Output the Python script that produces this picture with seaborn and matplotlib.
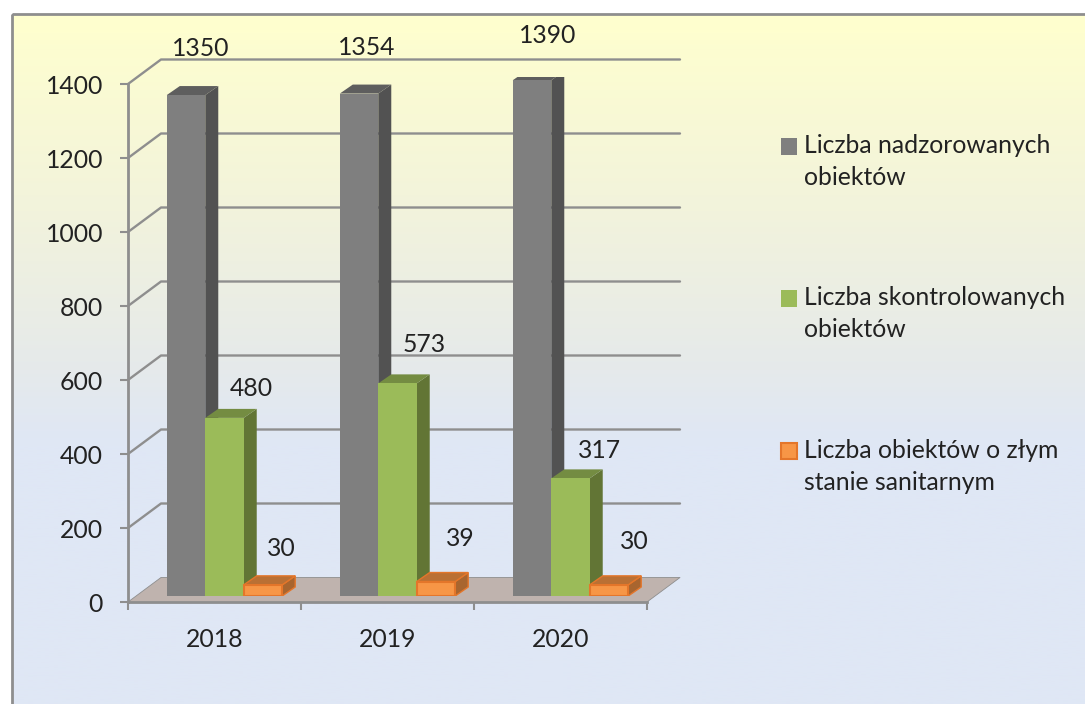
import numpy as np
import pandas as pd
import matplotlib
matplotlib.use("Agg")
import matplotlib.pyplot as plt
import seaborn as sns
from matplotlib.colors import LinearSegmentedColormap
from matplotlib.patches import Polygon, Rectangle

years = ["2018", "2019", "2020"]
supervised = [1350, 1354, 1390]
inspected = [480, 573, 317]
bad_state = [30, 39, 30]
series_names = ["Liczba nadzorowanych\nobiektów",
                "Liczba skontrolowanych\nobiektów",
                "Liczba obiektów o złym\nstanie sanitarnym"]
y_ticks = [0, 200, 400, 600, 800, 1000, 1200, 1400]

front_colors = ["#7F7F7F", "#9BBB59", "#F79646"]
top_colors = ["#5E5E5E", "#748C42", "#BA7034"]
side_colors = ["#525252", "#627535", "#A8652F"]
edge_colors = ["#7F7F7F", "#9BBB59", "#E4762A"]

# pixel offsets of the value labels from the top centre of each bar
label_offsets = [[(15, 47), (8, 46), (16, 45)],
                 [(27, 29), (27, 39), (29, 28)],
                 [(18, 36), (24, 43), (25, 43)]]

W, H = 1085, 704
GREY = "#8E8E8E"
TEXT = "#222222"
FONT = 17.8

sns.set_theme(style="white")
plt.rcParams["font.family"] = ["Lato", "DejaVu Sans"]

df = pd.DataFrame({"rok": years * 3,
                   "seria": np.repeat(series_names, 3),
                   "wartosc": supervised + inspected + bad_state})

fig = plt.figure(figsize=(W / 100, H / 100), dpi=100, facecolor="white")


def box(left, right, top, bottom):
    return [left / W, 1 - bottom / H, (right - left) / W, (bottom - top) / H]


# background: frame, gradient, wall grid and floor, in image pixels
bg = fig.add_axes([0, 0, 1, 1], zorder=0)
bg.set_xlim(0, W)
bg.set_ylim(H, 0)
bg.axis("off")
cmap = LinearSegmentedColormap.from_list(
    "panel", [(0, "#FFFFCE"), (0.28, "#F2F3DC"), (0.5, "#E6EAEA"), (0.62, "#DFE7F5"), (1, "#DFE7F5")])
bg.imshow(np.linspace(0, 1, 300).reshape(-1, 1), cmap=cmap, aspect="auto",
          extent=(12, W + 5, H + 5, 14))
bg.set_xlim(0, W)
bg.set_ylim(H, 0)
bg.add_patch(Rectangle((12, 14), W, H, fill=False, ec=GREY, lw=2))

x0, x1 = 128, 647
y_zero, y_top = 602, 84
dx, dy = 33, 24.5
px_per_unit = (y_zero - y_top) / 1400

bg.add_patch(Polygon([(x0, y_zero), (x1, y_zero), (x1 + dx, y_zero - dy), (x0 + dx, y_zero - dy)],
                     fc="#BFB3AE", ec="none"))
for v in y_ticks:
    y = y_zero - v * px_per_unit
    if v > 0:
        bg.plot([x0, x0 + dx, x1 + dx], [y, y - dy, y - dy], color=GREY, lw=1.7)
    else:
        bg.plot([x0, x0 + dx, x1 + dx, x1], [y, y - dy, y - dy, y], color=GREY, lw=0.6)

# front plane: the real axis
ax = fig.add_axes(box(x0, x1, y_top, y_zero), zorder=1)
ax.patch.set_alpha(0)
ax.set_xlim(-0.5, 2.5)
ax.set_ylim(0, 1400)
sns.despine(ax=ax)
for s in ["left", "bottom"]:
    ax.spines[s].set_color(GREY)
    ax.spines[s].set_linewidth(2)
ax.set_yticks(y_ticks)
ax.set_xticks([-0.5, 0.5, 1.5, 2.5])
ax.set_xticklabels([])
ax.set_xticks([0, 1, 2], labels=years, minor=True)
ax.tick_params(axis="x", which="major", length=6, width=1.5, color=GREY, bottom=True)
ax.tick_params(axis="x", which="minor", length=0, pad=19, labelsize=FONT, labelcolor=TEXT)
ax.tick_params(axis="y", length=6, width=1.5, color=GREY, left=True, pad=12, labelsize=FONT, labelcolor=TEXT)

# bar plane sits a little behind the front plane
ax_bars = fig.add_axes(box(138, 657, 76.5, 596), zorder=2)
ax_bars.patch.set_alpha(0)
sns.barplot(data=df, x="rok", y="wartosc", hue="seria", hue_order=series_names,
            palette=front_colors, saturation=1, width=0.667, gap=0, ax=ax_bars)
ax_bars.set_xlim(-0.5, 2.5)
ax_bars.set_ylim(0, 1400)
ax_bars.axis("off")
ax_bars.get_legend().remove()

depth_x, depth_y = 13, 9
for s, bars in enumerate(ax_bars.containers):
    for i, bar in enumerate(bars):
        order = 3 + i * 3 + s * 0.5
        bar.set_zorder(order + 0.2)
        bar.set_edgecolor(edge_colors[s])
        bar.set_linewidth(1.5 if s == 2 else 0)
        xa, ya = ax_bars.transData.transform((bar.get_x(), 0))
        xb, yb = ax_bars.transData.transform((bar.get_x() + bar.get_width(), bar.get_height()))
        side = [(xb, ya), (xb + depth_x, ya + depth_y), (xb + depth_x, yb + depth_y), (xb, yb)]
        top = [(xa, yb), (xa + depth_x, yb + depth_y), (xb + depth_x, yb + depth_y), (xb, yb)]
        lw = 1 if s == 2 else 0
        ax_bars.add_patch(Polygon(side, transform=None, fc=side_colors[s], ec=edge_colors[s], lw=lw, zorder=order))
        ax_bars.add_patch(Polygon(top, transform=None, fc=top_colors[s], ec=edge_colors[s], lw=lw, zorder=order + 0.1))
        ax_bars.annotate(f"{bar.get_height():.0f}",
                         (bar.get_x() + bar.get_width() / 2, bar.get_height()),
                         xytext=label_offsets[s][i], textcoords="offset pixels",
                         ha="center", va="center", fontsize=FONT, color=TEXT, zorder=30,
                         annotation_clip=False)

# legend, markers lined up with the first line of each entry
leg_handles = [Rectangle((0, 0), 1, 1, fc=front_colors[k], ec=edge_colors[k], lw=1.5 if k == 2 else 0)
               for k in range(3)]
leg = fig.legend(leg_handles, series_names, loc="upper left", bbox_to_anchor=(781 / W, 1 - 134 / H),
                 frameon=False, fontsize=FONT, labelcolor=TEXT, handlelength=0.65, handleheight=0.65,
                 handletextpad=0.3, labelspacing=3.93, borderpad=0, borderaxespad=0)
for t in leg.get_texts():
    t.set_linespacing(1.48)
for h in leg.legend_handles:
    h.set_y(h.get_y() + 11.5)

fig.savefig("out.png", dpi=100)
